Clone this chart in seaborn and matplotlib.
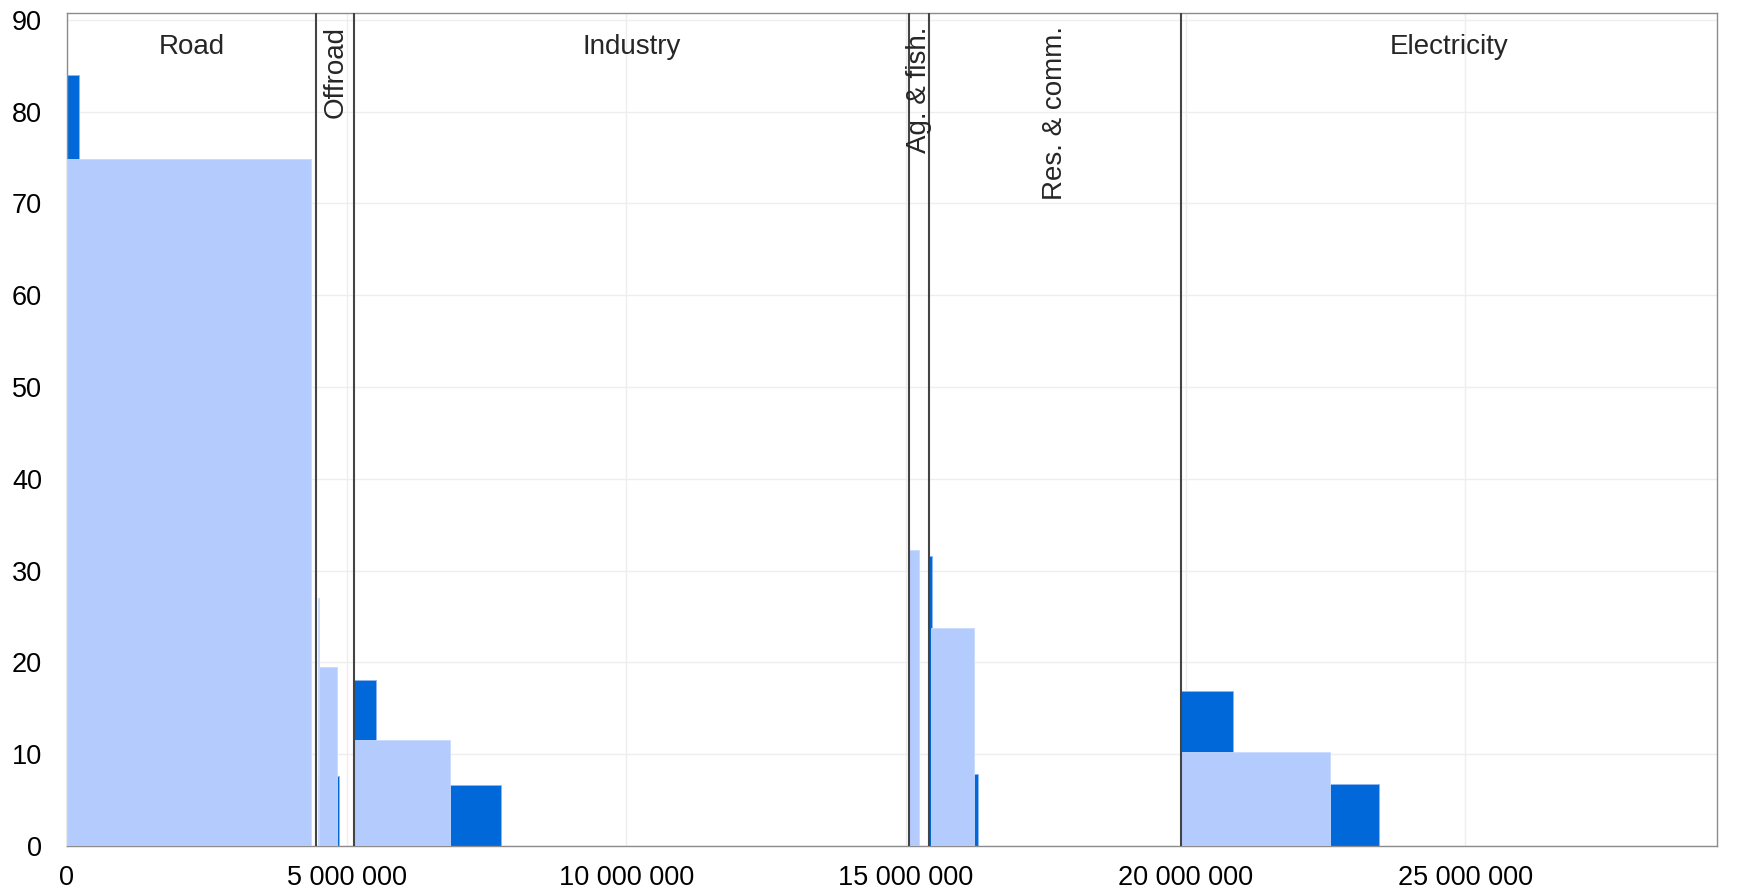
import numpy as np
import pandas as pd
import matplotlib
matplotlib.use("Agg")
import matplotlib.pyplot as plt
import matplotlib.ticker as mticker
import seaborn as sns

# sectors (start of each sector on the cumulative abatement axis, millions)
sectors = ["Road", "Offroad", "Industry", "Ag. & fish.", "Res. & comm.", "Electricity"]
sector_start = [0.00, 4.46, 5.13, 15.06, 15.42, 19.92]
sector_vertical = [False, True, False, True, True, False]

# dark series: start, width (millions), cost
dark_start = [0.00, 4.48, 5.14, 5.52, 15.39, 15.46, 19.90, 20.85]
dark_width = [0.21, 0.39, 0.38, 2.24, 0.07, 0.83, 0.95, 2.60]
dark_cost = [84.0, 7.6, 18.1, 6.6, 31.6, 7.8, 16.9, 6.8]

# light series
light_start = [0.00, 4.48, 4.505, 5.14, 15.04, 15.44, 19.92]
light_width = [4.37, 0.025, 0.325, 1.70, 0.20, 0.77, 2.67]
light_cost = [74.8, 27.0, 19.5, 11.5, 32.2, 23.7, 10.2]

x_max = 29.5
x_ticks = [0, 5, 10, 15, 20, 25]
y_ticks = list(range(0, 100, 10))

sns.set_theme(style="whitegrid")
plt.rcParams['font.family'] = ['Liberation Sans', 'DejaVu Sans']

dark = pd.DataFrame({"start": dark_start, "width": dark_width, "cost": dark_cost})
light = pd.DataFrame({"start": light_start, "width": light_width, "cost": light_cost})

fig, ax = plt.subplots(figsize=(17.44, 8.92), dpi=100)
fig.subplots_adjust(left=0.0384, right=0.9845, bottom=0.0516, top=0.9854)

ax.bar(dark["start"] * 1e6, dark["cost"], width=dark["width"] * 1e6, align="edge",
       color="#0068D9", edgecolor="#8FB5F0", linewidth=0.6, zorder=2)
ax.bar(light["start"] * 1e6, light["cost"], width=light["width"] * 1e6, align="edge",
       color="#B3CBFD", edgecolor="#C9DAFD", linewidth=0.6, zorder=3)

ends = sector_start[1:] + [x_max]
for i, name in enumerate(sectors):
    if i > 0:
        ax.axvline(sector_start[i] * 1e6, color="#444444", lw=1.5, zorder=4)
    mid = (sector_start[i] + ends[i]) / 2 * 1e6
    if sector_vertical[i]:
        ax.text(mid, 89.3, name, rotation=90, ha="center", va="top", fontsize=20, zorder=5)
    else:
        ax.text(mid, 87.1, name, ha="center", va="center", fontsize=20, zorder=5)

ax.set_xlim(0, x_max * 1e6)
ax.set_ylim(0, 90.75)
ax.set_xticks([t * 1e6 for t in x_ticks])
ax.set_yticks(y_ticks)
ax.xaxis.set_major_formatter(mticker.FuncFormatter(lambda v, p: f"{int(v):,}".replace(",", " ")))
ax.tick_params(axis="both", direction="in", length=7, width=1, color="#999999",
               labelsize=19.5, labelcolor="black")
ax.tick_params(axis="y", pad=18)
ax.tick_params(axis="x", pad=14)
ax.grid(True, color="#EEEEEE", lw=1)
ax.set_axisbelow(True)
for s in ax.spines.values():
    s.set_color("#8C8C8C")
    s.set_linewidth(1)

plt.savefig("out.png", dpi=100)
